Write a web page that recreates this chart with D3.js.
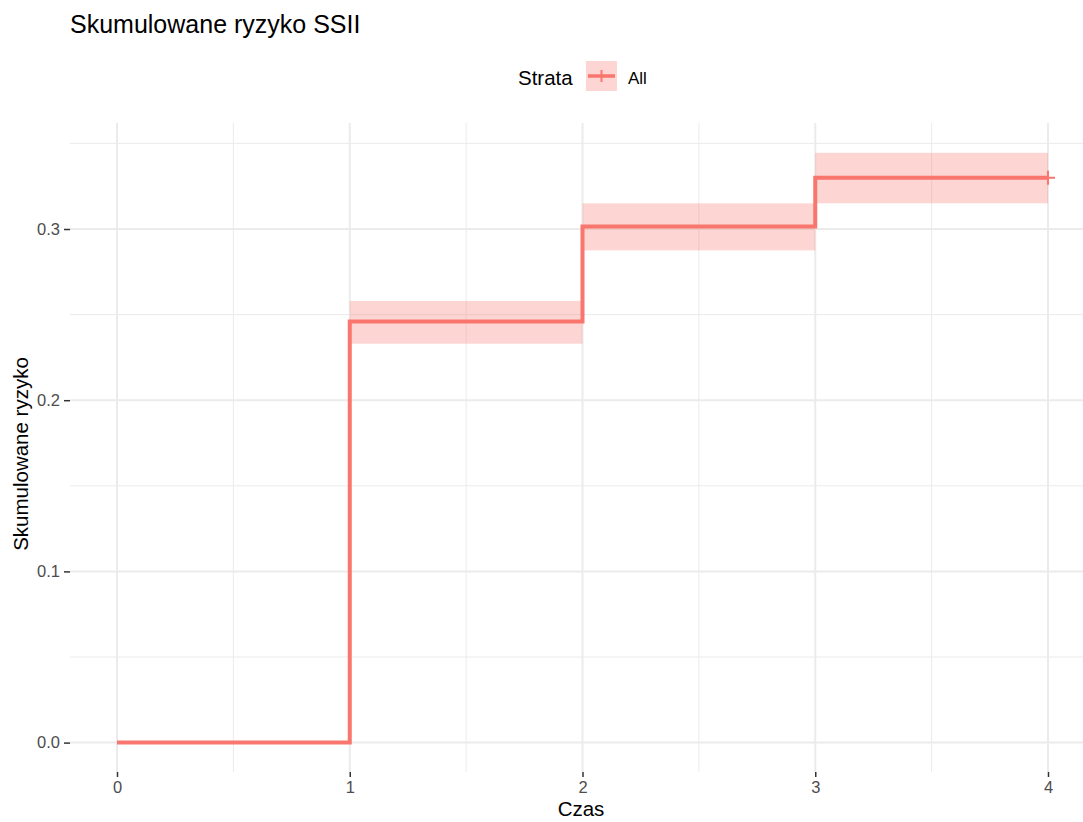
<!DOCTYPE html>
<html>
<head>
<meta charset="utf-8">
<script src="https://cdn.jsdelivr.net/npm/d3@7"></script>
<style>
  html, body { margin: 0; padding: 0; background: #ffffff; }
  svg text { font-family: "Liberation Sans", Arial, Helvetica, sans-serif; }
</style>
</head>
<body>
<svg id="chart" width="1083" height="822"></svg>
<script>
// Cumulative incidence estimate (step function) with confidence band
const times = [0, 1, 2, 3, 4];
const estimate = [0, 0.246, 0.3015, 0.330];
const lower = [0, 0.233, 0.2875, 0.315];
const upper = [0, 0.258, 0.315, 0.3445];
const xTicks = [0, 1, 2, 3, 4];
const yTicks = [0, 0.1, 0.2, 0.3];
const yTickLabels = ["0.0", "0.1", "0.2", "0.3"];
const strata = ["All"];

const W = 1083, H = 822;
const panel = { left: 70, right: 1083, top: 123, bottom: 772 };
const col = "#F8766D";
const gridCol = "#EBEBEB";

const svg = d3.select("#chart");

const x = d3.scaleLinear().domain([0, 4]).range([117, 1048]);
const y = d3.scaleLinear().domain([0, 0.3]).range([742.6, 229]);

// Grid: minor lines between the major ones
const g = svg.append("g");
const xMinor = d3.range(-0.5, 4.6, 1).filter(v => x(v) > panel.left && x(v) < panel.right);
const yMinor = [-0.05, 0.05, 0.15, 0.25, 0.35].filter(v => y(v) > panel.top && y(v) < panel.bottom);

g.selectAll(".xminor").data(xMinor).join("line")
  .attr("x1", d => x(d)).attr("x2", d => x(d))
  .attr("y1", panel.top).attr("y2", panel.bottom)
  .attr("stroke", gridCol).attr("stroke-width", 1);
g.selectAll(".yminor").data(yMinor).join("line")
  .attr("x1", panel.left).attr("x2", panel.right)
  .attr("y1", d => y(d)).attr("y2", d => y(d))
  .attr("stroke", gridCol).attr("stroke-width", 1);
g.selectAll(".xmajor").data(xTicks).join("line")
  .attr("x1", d => x(d)).attr("x2", d => x(d))
  .attr("y1", panel.top).attr("y2", panel.bottom)
  .attr("stroke", gridCol).attr("stroke-width", 2);
g.selectAll(".ymajor").data(yTicks).join("line")
  .attr("x1", panel.left).attr("x2", panel.right)
  .attr("y1", d => y(d)).attr("y2", d => y(d))
  .attr("stroke", gridCol).attr("stroke-width", 2);

// Confidence band per step interval
const bands = estimate.map((e, i) => ({ x0: times[i], x1: times[i + 1], lo: lower[i], hi: upper[i] }))
  .filter(d => d.hi > d.lo);
svg.append("g").selectAll("rect").data(bands).join("rect")
  .attr("x", d => x(d.x0)).attr("width", d => x(d.x1) - x(d.x0))
  .attr("y", d => y(d.hi)).attr("height", d => y(d.lo) - y(d.hi))
  .attr("fill", col).attr("fill-opacity", 0.3);

// Step line
const pts = estimate.map((e, i) => [times[i], e]);
pts.push([times[times.length - 1], estimate[estimate.length - 1]]);
const line = d3.line().x(d => x(d[0])).y(d => y(d[1])).curve(d3.curveStepAfter);
svg.append("path").datum(pts)
  .attr("d", line).attr("fill", "none")
  .attr("stroke", col).attr("stroke-width", 4);

// Censoring mark at end of follow-up
const cx = x(times[times.length - 1]), cy = y(estimate[estimate.length - 1]);
svg.append("path")
  .attr("d", `M${cx - 7},${cy}H${cx + 7}M${cx},${cy - 7}V${cy + 7}`)
  .attr("stroke", col).attr("stroke-width", 2);

// Axes
const tickCol = "#333333", labCol = "#4D4D4D";
const xAxis = svg.append("g").attr("transform", `translate(0,${panel.bottom})`)
  .call(d3.axisBottom(x).tickValues(xTicks).tickFormat(d3.format("d")).tickSize(5).tickPadding(4));
xAxis.select(".domain").remove();
xAxis.selectAll("line").attr("stroke", tickCol).attr("stroke-width", 1.5);
xAxis.selectAll("text").attr("fill", labCol).style("font-size", "16.5px");

const yAxis = svg.append("g").attr("transform", `translate(${panel.left},0)`)
  .call(d3.axisLeft(y).tickValues(yTicks).tickFormat((d, i) => yTickLabels[i]).tickSize(6).tickPadding(4));
yAxis.select(".domain").remove();
yAxis.selectAll("line").attr("stroke", tickCol).attr("stroke-width", 1.5);
yAxis.selectAll("text").attr("fill", labCol).style("font-size", "16.5px");

// Axis titles
svg.append("text").attr("x", 581).attr("y", 816)
  .attr("text-anchor", "middle").style("font-size", "20.5px").attr("fill", "#000")
  .text("Czas");
svg.append("text")
  .attr("transform", `translate(28,454) rotate(-90)`)
  .attr("text-anchor", "middle").style("font-size", "20.5px").attr("fill", "#000")
  .text("Skumulowane ryzyko");

// Title
svg.append("text").attr("x", 70).attr("y", 33)
  .style("font-size", "25px").attr("fill", "#000")
  .text("Skumulowane ryzyko SSII");

// Legend
const lg = svg.append("g");
lg.append("text").attr("x", 518).attr("y", 85).style("font-size", "20.5px").attr("fill", "#000").text("Strata");
const key = lg.append("g").attr("transform", "translate(586,61)");
key.append("rect").attr("width", 31).attr("height", 30).attr("fill", col).attr("fill-opacity", 0.3);
key.append("line").attr("x1", 2).attr("x2", 29).attr("y1", 15).attr("y2", 15).attr("stroke", col).attr("stroke-width", 3.5);
key.append("line").attr("x1", 15.5).attr("x2", 15.5).attr("y1", 9).attr("y2", 21).attr("stroke", col).attr("stroke-width", 2);
lg.selectAll(".lab").data(strata).join("text").attr("x", 628).attr("y", 84)
  .style("font-size", "17px").attr("fill", "#000").text(d => d);
</script>
</body>
</html>
